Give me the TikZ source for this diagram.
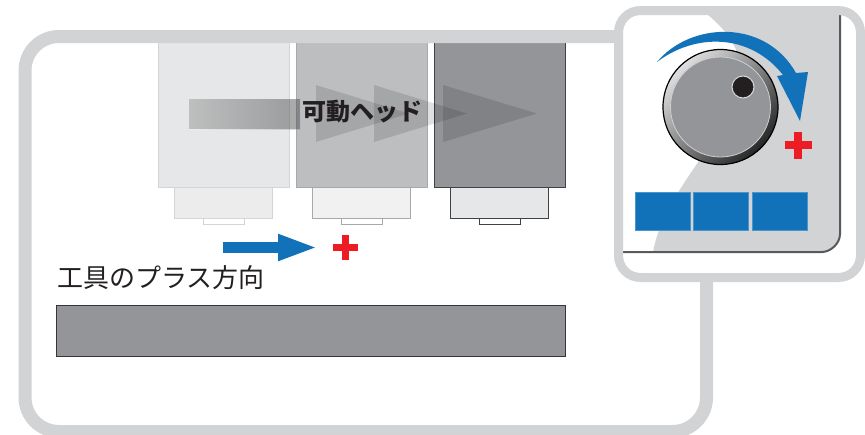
\documentclass[tikz,border=0pt]{standalone}
\usepackage{fontspec}
\newfontfamily\jpfont{Noto Sans CJK JP}
\usetikzlibrary{arrows.meta}

\definecolor{framegray}{RGB}{209,211,212}
\definecolor{inkgray}{RGB}{35,31,32}
\definecolor{bargray}{RGB}{147,149,152}
\definecolor{knobblue}{RGB}{17,114,186}
\definecolor{plusred}{RGB}{237,28,36}
\definecolor{panelline}{RGB}{88,89,91}
\definecolor{headA}{RGB}{230,231,232}
\definecolor{headAline}{RGB}{212,213,215}
\definecolor{baseA}{RGB}{236,236,237}
\definecolor{headB}{RGB}{188,190,192}
\definecolor{headBline}{RGB}{167,169,172}
\definecolor{baseB}{RGB}{241,241,242}
\definecolor{headC}{RGB}{147,149,152}
\definecolor{headCline}{RGB}{65,64,66}
\definecolor{baseC}{RGB}{230,231,232}

\tikzstyle{frame}=[draw=framegray,line width=13pt,rounded corners=34pt]
\tikzstyle{block}=[rectangle,inner sep=0pt,line width=1pt]
\tikzstyle{ghostarrow}=[fill=black,fill opacity=.12]
\tikzstyle{button}=[rectangle,inner sep=0pt,fill=knobblue,draw=knobblue!75!white,line width=.8pt,minimum width=55pt,minimum height=38pt]
\tikzstyle{bluearrow}=[knobblue,line width=11pt,-{Triangle[length=40pt,width=24pt]}]
\tikzstyle{jptext}=[inner sep=0pt,text=inkgray]

\begin{document}
\begin{tikzpicture}[x=1pt,y=-1pt]
\useasboundingbox (0,0) rectangle (865,434);

% three head positions
\foreach \x/\fillc/\linec/\basec/\name in {158/headA/headAline/baseA/left, 296/headB/headBline/baseB/mid, 434/headC/headCline/baseC/right}
{
\node[block,fill=\fillc,draw=\linec,minimum width=131pt,minimum height=150pt] (head-\name) at (\x+65.5,112) {};
\node[block,fill=\basec,draw=\linec,minimum width=98pt,minimum height=31pt] (base-\name) at (\x+65.5,202.5) {};
\node[block,fill=white,draw=\linec,minimum width=41pt,minimum height=6pt] (tip-\name) at (\x+65.5,221) {};
}

% motion band and arrowheads
\fill[left color=white,right color=black!50,opacity=.28] (189,99) rectangle (300,129);
\foreach \bx/\tx in {316/409, 374/467, 443/537}
\fill[ghostarrow] (\bx,85) -- (\tx,113.5) -- (\bx,142) -- cycle;
\node[jptext,font=\jpfont\bfseries\fontsize{24pt}{24pt}\selectfont] (headlabel) at (362,112) {可動ヘッド};

\draw[frame] (25,36.5) rectangle (706.5,431.5);

% tool direction
\coordinate (tooltail) at (223,247.5);
\coordinate (toolhead) at (318,247.5);
\draw[bluearrow] (tooltail) -- (toolhead);
\coordinate (toolplus) at (345.5,247.5);
\draw[plusred,line width=7pt] (toolplus) ++(-12.5,0) -- ++(25,0) (toolplus) ++(0,-12.5) -- ++(0,25);
\node[jptext,anchor=west,font=\jpfont\fontsize{26pt}{26pt}\selectfont] (toollabel) at (57,277.5) {工具のプラス方向};
\node[block,fill=bargray,draw=inkgray!90,minimum width=509pt,minimum height=51pt] (table) at (310.5,330.5) {};

% control panel
\fill[white,rounded corners=22pt] (618.5,10.5) rectangle (860.5,277.5);
\fill[framegray] (708,15) -- (840,15) -- (840,234) .. controls (840,244) and (830,252) .. (822,252) -- (653,252) .. controls (670,160) and (800,90) .. (708,15) -- cycle;
\draw[panelline,line width=2pt] (840,14) -- (840,234) .. controls (840,244) and (830,252) .. (822,252) -- (622,252);
\draw[draw=framegray,line width=9pt,rounded corners=22pt] (618.5,10.5) rectangle (860.5,277.5);

\node[circle,inner sep=0pt,minimum size=115pt,draw=black,line width=1.2pt,top color=gray!25,bottom color=black!85,shading angle=45] (knob) at (720.5,107) {};
\node[circle,inner sep=0pt,minimum size=100pt,fill=bargray,draw=white!55!bargray,line width=.8pt] (knobface) at (knob.center) {};
\node[circle,inner sep=0pt,minimum size=22pt,fill=inkgray,draw=white!70!gray,line width=1pt] (knobdot) at (743,87) {};

\fill[knobblue] (657,62) .. controls (690,22) and (765,18) .. (796,73) -- (808,72) -- (800,121) -- (777,76) -- (783,75) .. controls (750,33) and (695,33) .. (657,62) -- cycle;
\coordinate (knobplus) at (798,145);
\draw[plusred,line width=8pt] (knobplus) ++(-13.5,0) -- ++(27,0) (knobplus) ++(0,-13.5) -- ++(0,27);

\foreach \x [count=\i] in {635,693,752}
\node[button] (button\i) at (\x+27.5,211) {};
\end{tikzpicture}
\end{document}
